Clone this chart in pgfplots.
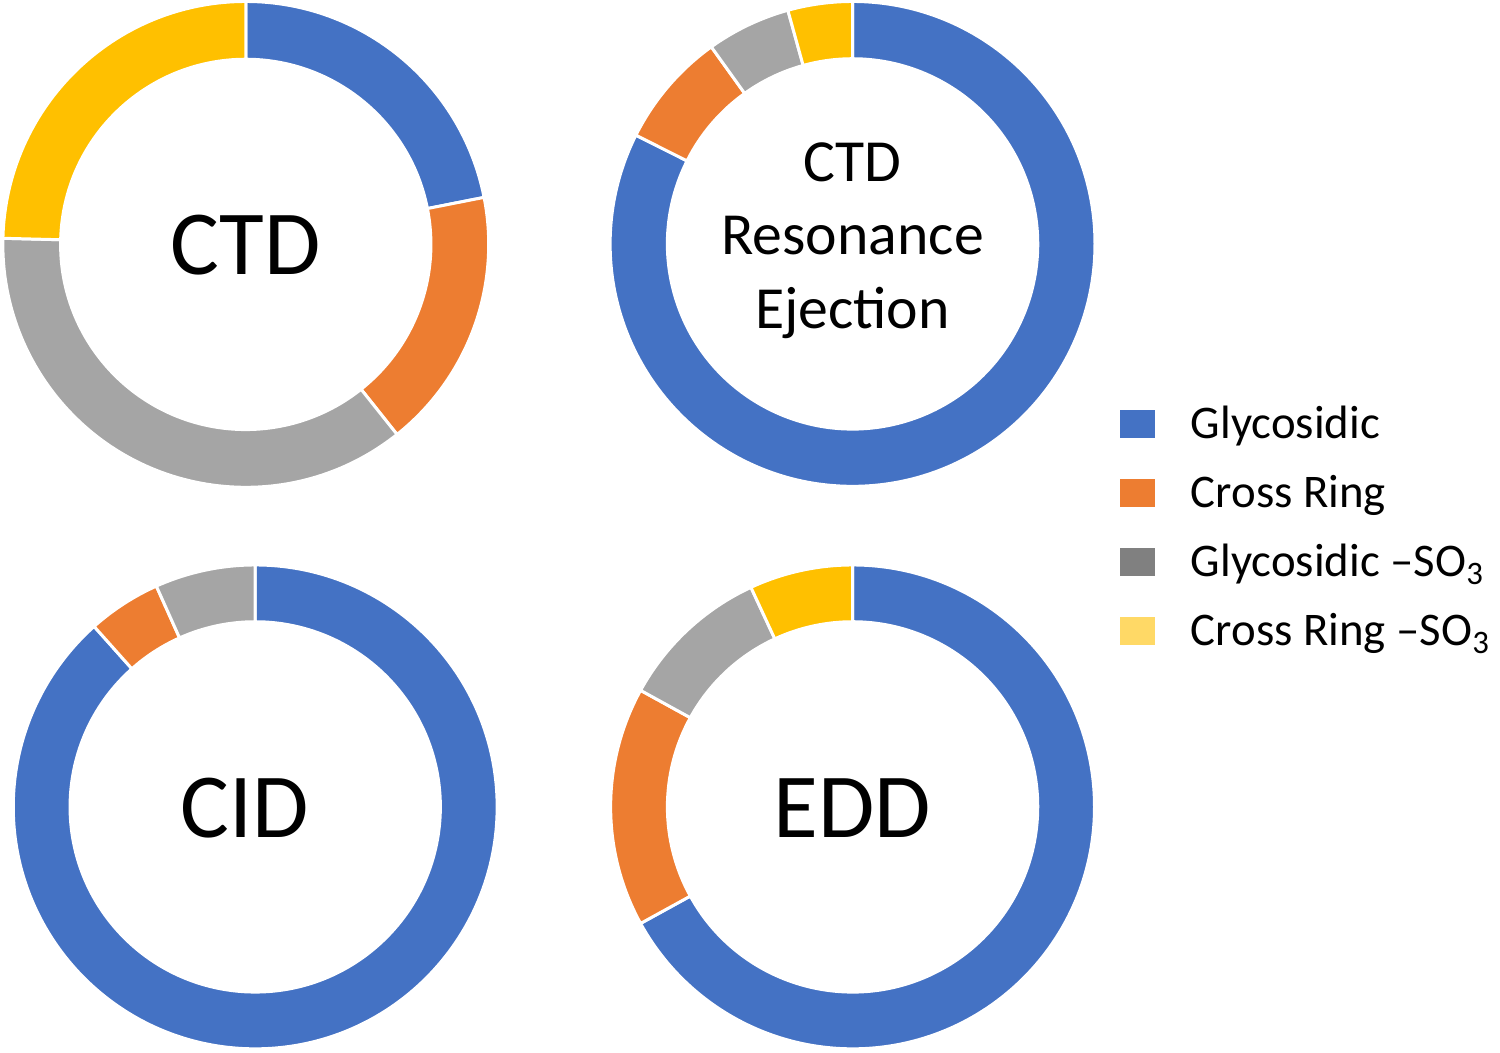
\documentclass[border=0pt]{standalone}
\usepackage{pgfplots}
\pgfplotsset{compat=1.18}
\usepackage{pgfplotstable}
\usepackage{fontspec}
\setmainfont{Carlito}

\definecolor{seg1}{HTML}{4472C4}
\definecolor{seg2}{HTML}{ED7D31}
\definecolor{seg3}{HTML}{A5A5A5}
\definecolor{seg4}{HTML}{FFC000}
\definecolor{leg3}{HTML}{808080}
\definecolor{leg4}{HTML}{FFD966}

% shares in percent, clockwise from 12 o'clock
\pgfplotstableread{
seg val
1 21.9
2 17.4
3 36.1
4 24.6
}\ctd
\pgfplotstableread{
seg val
1 82.4
2 7.7
3 5.6
4 4.3
}\ctdre
\pgfplotstableread{
seg val
1 88.4
2 4.9
3 6.7
}\cid
\pgfplotstableread{
seg val
1 67.0
2 16.0
3 10.1
4 6.9
}\edd

% #1 table, #2 cx, #3 cy, #4 outer r, #5 inner r (axis units)
\newcommand{\donut}[5]{%
  \pgfplotstablegetrowsof{#1}%
  \pgfmathtruncatemacro\nrows{\pgfplotsretval-1}%
  \def\cum{0}%
  \pgfplotsforeachungrouped \r in {0,...,\nrows}{%
    \pgfplotstablegetelem{\r}{val}\of{#1}\let\v\pgfplotsretval
    \pgfplotstablegetelem{\r}{seg}\of{#1}\let\s\pgfplotsretval
    \pgfmathsetmacro\aone{90-3.6*\cum}%
    \pgfmathsetmacro\atwo{90-3.6*(\cum+\v)}%
    \pgfmathsetmacro\xo{#2+#4*cos(\aone)}%
    \pgfmathsetmacro\yo{#3+#4*sin(\aone)}%
    \pgfmathsetmacro\xin{#2+#5*cos(\atwo)}%
    \pgfmathsetmacro\yin{#3+#5*sin(\atwo)}%
    \pgfmathsetmacro\cum{\cum+\v}%
    \edef\temp{\noexpand\fill[seg\s, draw=white, line width=1.5pt]
      (axis cs:\xo,\yo) arc[start angle=\aone, end angle=\atwo, radius=#4*0.5pt]
      -- (axis cs:\xin,\yin) arc[start angle=\atwo, end angle=\aone, radius=#5*0.5pt] -- cycle;}%
    \temp
  }%
}

\begin{document}
\begin{tikzpicture}
\begin{axis}[
  x=0.5pt, y=0.5pt,
  xmin=0, xmax=1500, ymin=0, ymax=1056,
  hide axis, clip=false,
  legend cell align=left,
  legend style={at={(axis cs:1116,658)}, anchor=north west, draw=none, fill=none,
    font=\fontsize{23.5}{28}\selectfont, row sep=13pt, column sep=16pt},
  legend image code/.code={\path[draw=none, #1] (0pt,-7pt) rectangle (17.5pt,7pt);},
]
\path (rel axis cs:0,0) rectangle (rel axis cs:1,1);

\donut{\ctd}{244}{812}{244}{186}
\donut{\ctdre}{853.5}{812.5}{243.5}{186}
\donut{\cid}{253.5}{247}{243}{186}
\donut{\edd}{853.5}{247}{243}{186}

\node at (axis cs:244,811) {\fontsize{46}{50}\selectfont CTD};
\node[align=center, font=\fontsize{30}{37}\selectfont] at (axis cs:853.5,816) {CTD\\Resonance\\Ejection};
\node at (axis cs:243,246) {\fontsize{46}{50}\selectfont CID};
\node at (axis cs:853.5,246) {\fontsize{46}{50}\selectfont EDD};

\addlegendimage{fill=seg1, draw=seg1!75!black, line width=0.6pt}
\addlegendentry{Glycosidic}
\addlegendimage{fill=seg2}
\addlegendentry{Cross Ring}
\addlegendimage{fill=leg3}
\addlegendentry{Glycosidic –SO\textsubscript{3}}
\addlegendimage{fill=leg4}
\addlegendentry{Cross Ring –SO\textsubscript{3}}
\end{axis}
\end{tikzpicture}
\end{document}
